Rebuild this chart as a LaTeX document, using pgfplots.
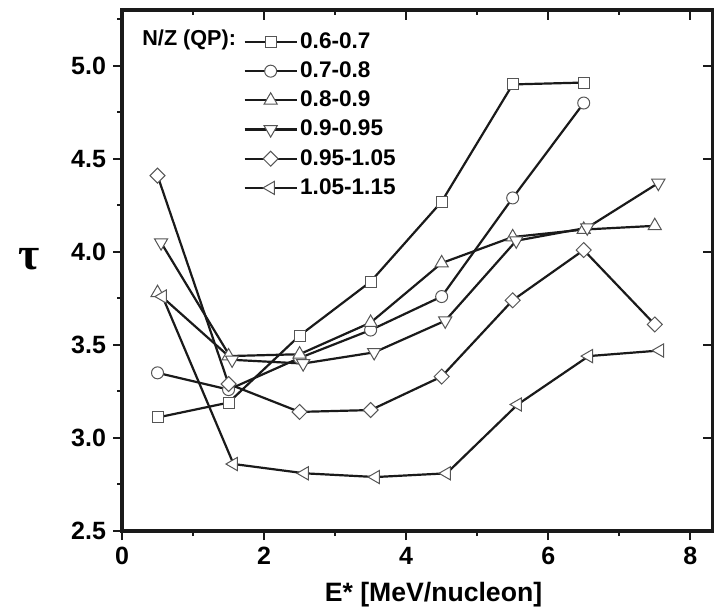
\documentclass[border=0pt]{standalone}
\usepackage{fontspec}
\setmainfont{Liberation Sans}
\newfontfamily\greekfont{Liberation Serif}
\usepackage{pgfplots}
\pgfplotsset{compat=1.18}
\definecolor{ln}{HTML}{1A1A1A}
\definecolor{mkc}{HTML}{555555}
\tikzset{mkst/.style={fill=white, draw=mkc, line width=0.5pt, solid}}
\begin{document}
\begin{tikzpicture}
\pgfplotsset{
  base/.style={
    width=295.5pt, height=260.5pt, scale only axis,
    xmin=0, xmax=8.32, ymin=2.5, ymax=5.3,
    axis line style={line width=2pt, ln},
  },
}
\begin{axis}[base,
  xtick={0,2,4,6,8}, minor xtick={1,3,5,7},
  ytick={2.5,3.0,3.5,4.0,4.5,5.0}, minor ytick={2.75,3.25,3.75,4.25,4.75,5.25},
  xtick pos=bottom, ytick pos=left,
  tick align=outside,
  major tick length=4.5pt, minor tick length=2.5pt,
  every tick/.style={line width=1pt, ln},
  /pgf/number format/assume math mode=true,
  tick label style={font=\fontsize{12.5}{14}\selectfont\bfseries},
  yticklabel style={/pgf/number format/fixed, /pgf/number format/fixed zerofill, /pgf/number format/precision=1},
  xlabel={E* [MeV/nucleon]},
  xlabel style={font=\fontsize{13.3}{15}\selectfont\bfseries, yshift=-2pt, xshift=8pt},
  every axis plot/.append style={line width=1.1pt, color=ln},
  legend cell align=left,
  legend style={draw=none, fill=none, at={(rel axis cs:0.205,0.962)}, anchor=north west,
    font=\fontsize{11.3}{12}\selectfont\bfseries, inner sep=0pt, row sep=2.8pt,
    nodes={inner sep=1.2pt}},
  legend image code/.code={\draw[mark repeat=2,mark phase=2,#1] plot coordinates {(0pt,0pt) (13pt,0pt) (26pt,0pt)};},
]
\addplot[mark=square*, mark size=2.75pt, mark options={mkst}] coordinates {
 (0.5,3.11) (1.5,3.19) (2.5,3.55) (3.5,3.84) (4.5,4.27) (5.5,4.90) (6.5,4.91)};
\addlegendentry{0.6-0.7}
\addplot[mark=*, mark size=3pt, mark options={mkst}] coordinates {
 (0.5,3.35) (1.5,3.26) (2.5,3.43) (3.5,3.58) (4.5,3.76) (5.5,4.29) (6.5,4.80)};
\addlegendentry{0.7-0.8}
\addplot[mark=triangle*, mark size=3.8pt, mark options={mkst}] coordinates {
 (0.5,3.78) (1.5,3.44) (2.5,3.45) (3.5,3.62) (4.5,3.94) (5.5,4.08) (6.5,4.12) (7.5,4.14)};
\addlegendentry{0.8-0.9}
\addplot[mark=triangle*, mark size=3.8pt, mark options={mkst, rotate=180}] coordinates {
 (0.55,4.05) (1.55,3.42) (2.55,3.40) (3.55,3.46) (4.55,3.63) (5.55,4.06) (6.55,4.13) (7.55,4.37)};
\addlegendentry{0.9-0.95}
\addplot[mark=square*, mark size=2.65pt, mark options={mkst, rotate=45}] coordinates {
 (0.5,4.41) (1.5,3.29) (2.5,3.14) (3.5,3.15) (4.5,3.33) (5.5,3.74) (6.5,4.01) (7.5,3.61)};
\addlegendentry{0.95-1.05}
\addplot[mark=triangle*, mark size=3.8pt, mark options={mkst, rotate=90}] coordinates {
 (0.57,3.76) (1.57,2.86) (2.57,2.81) (3.57,2.79) (4.57,2.81) (5.57,3.18) (6.57,3.44) (7.57,3.47)};
\addlegendentry{1.05-1.15}
\node[anchor=west, font=\fontsize{10.8}{12}\selectfont\bfseries, inner sep=0pt] at ([xshift=10pt,yshift=-15pt]rel axis cs:0,1) {N/Z (QP):};
\end{axis}
\begin{axis}[base,
  xtick={0,2,4,6,8}, minor xtick={1,3,5,7},
  ytick={3.0,3.5,4.0,4.5,5.0},
  xtick pos=top, ytick pos=right,
  tick align=inside,
  major tick length=5pt, minor tick length=2.5pt,
  every tick/.style={line width=1pt, ln},
  xticklabels={}, yticklabels={},
]
\end{axis}
\node[font=\greekfont\bfseries\fontsize{23}{23}\selectfont, inner sep=0pt] at ([xshift=-46.5pt, yshift=136pt]current axis.south west) {τ};
\pgfresetboundingbox
\useasboundingbox ([xshift=-61pt,yshift=-41pt]current axis.south west) rectangle ([xshift=0.5pt,yshift=5pt]current axis.north east);
\end{tikzpicture}
\end{document}
